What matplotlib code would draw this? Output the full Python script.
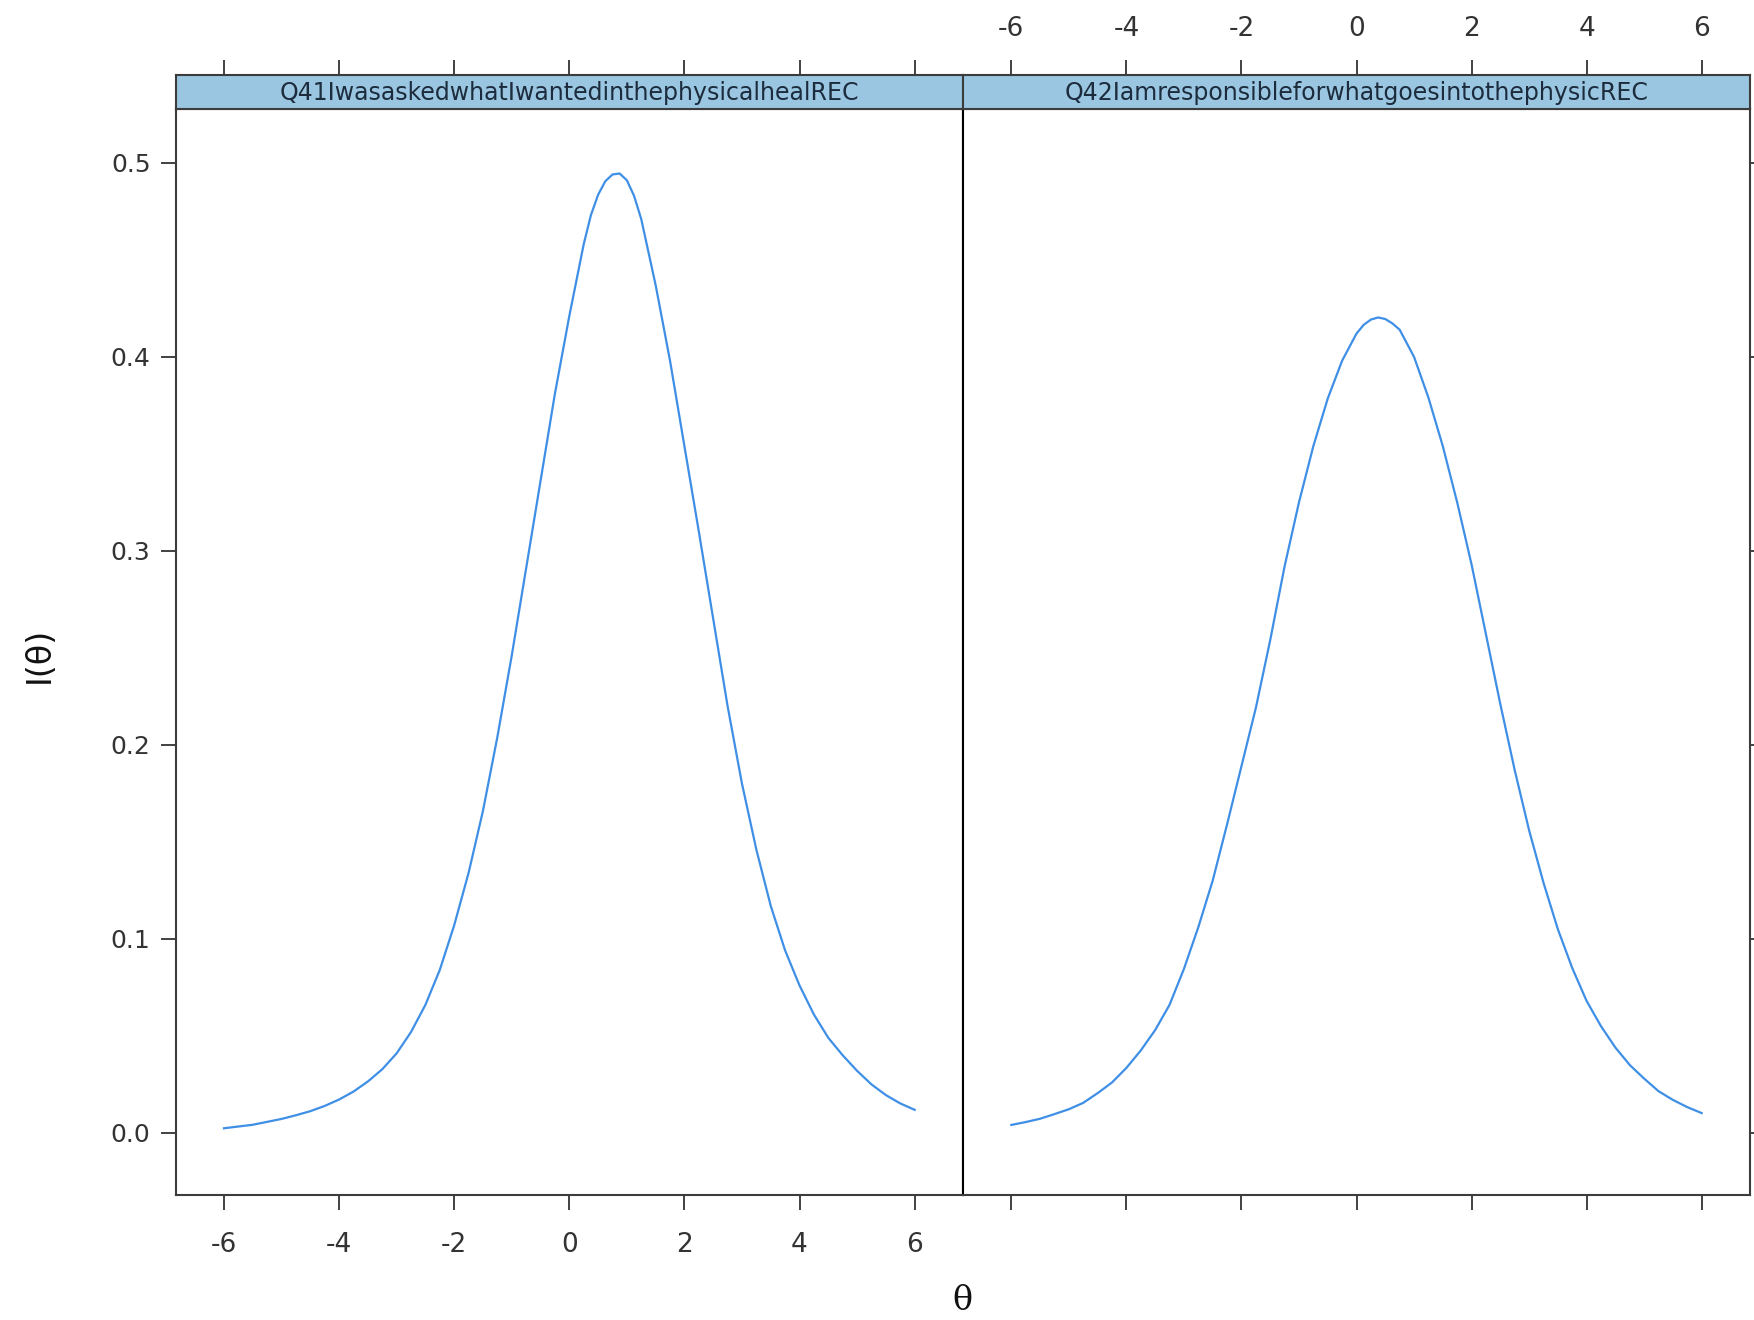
import matplotlib
matplotlib.use("Agg")
import matplotlib.pyplot as plt

# ---------------- data ----------------
theta_q41 = [-6.00, -5.75, -5.50, -5.25, -5.00, -4.75, -4.50, -4.25, -4.00, -3.75,
             -3.50, -3.25, -3.00, -2.75, -2.50, -2.25, -2.00, -1.75, -1.50, -1.25,
             -1.00, -0.75, -0.50, -0.25, 0.00, 0.25, 0.375, 0.50, 0.625, 0.75,
             0.875, 1.00, 1.125, 1.25, 1.50, 1.75, 2.00, 2.25, 2.50, 2.75,
             3.00, 3.25, 3.50, 3.75, 4.00, 4.25, 4.50, 4.75, 5.00, 5.25,
             5.50, 5.75, 6.00]
info_q41 = [0.0024, 0.0033, 0.0042, 0.0057, 0.0072, 0.0091, 0.0112, 0.0139, 0.0172, 0.0213,
            0.0265, 0.0328, 0.0410, 0.0520, 0.0660, 0.0840, 0.1070, 0.1340, 0.1660, 0.2040,
            0.2460, 0.2910, 0.3360, 0.3810, 0.4210, 0.4580, 0.4730, 0.4835, 0.4905, 0.4940,
            0.4945, 0.4910, 0.4830, 0.4710, 0.4370, 0.3980, 0.3540, 0.3100, 0.2650, 0.2200,
            0.1800, 0.1460, 0.1170, 0.0940, 0.0760, 0.0610, 0.0490, 0.0400, 0.0320, 0.0250,
            0.0195, 0.0152, 0.0119]

theta_q42 = [-6.00, -5.75, -5.50, -5.25, -5.00, -4.75, -4.50, -4.25, -4.00, -3.75,
             -3.50, -3.25, -3.00, -2.75, -2.50, -2.25, -2.00, -1.75, -1.50, -1.25,
             -1.00, -0.75, -0.50, -0.25, 0.00, 0.125, 0.25, 0.375, 0.50, 0.625,
             0.75, 1.00, 1.25, 1.50, 1.75, 2.00, 2.25, 2.50, 2.75, 3.00,
             3.25, 3.50, 3.75, 4.00, 4.25, 4.50, 4.75, 5.00, 5.25, 5.50,
             5.75, 6.00]
info_q42 = [0.0041, 0.0056, 0.0073, 0.0097, 0.0122, 0.0155, 0.0205, 0.0260, 0.0335, 0.0425,
            0.0530, 0.0660, 0.0845, 0.1060, 0.1300, 0.1590, 0.1890, 0.2190, 0.2540, 0.2920,
            0.3250, 0.3540, 0.3785, 0.3980, 0.4120, 0.4165, 0.4192, 0.4203, 0.4195, 0.4172,
            0.4140, 0.4000, 0.3790, 0.3540, 0.3250, 0.2930, 0.2570, 0.2210, 0.1870, 0.1560,
            0.1290, 0.1050, 0.0850, 0.0680, 0.0550, 0.0440, 0.0350, 0.0280, 0.0215, 0.0170,
            0.0133, 0.0102]

panel_titles = ["Q41IwasaskedwhatIwantedinthephysicalhealREC",
                "Q42IamresponsibleforwhatgoesintothephysicREC"]
x_ticks = [-6, -4, -2, 0, 2, 4, 6]
x_ticklabels = ["-6", "-4", "-2", "0", "2", "4", "6"]
y_ticks = [0.0, 0.1, 0.2, 0.3, 0.4, 0.5]
y_ticklabels = ["0.0", "0.1", "0.2", "0.3", "0.4", "0.5"]
x_label = "θ"
y_label = "I(θ)"

# ---------------- styling ----------------
plt.rcParams['font.family'] = ['DejaVu Sans']
W_PX, H_PX = 1754, 1320
fig = plt.figure(figsize=(W_PX / 100, H_PX / 100), dpi=100)

left_px, mid_px, right_px = 175.6, 963.0, 1750.0
strip_top_px, panel_top_px, panel_bot_px = 75.0, 108.5, 1195.0

def fx(px):
    return px / W_PX

def fy(py):
    return 1 - py / H_PX

pw = fx(mid_px) - fx(left_px)
pw2 = fx(right_px) - fx(mid_px)
ph = fy(panel_top_px) - fy(panel_bot_px)
sh = fy(strip_top_px) - fy(panel_top_px)

line_color = "#3f8fe6"
strip_color = "#9ac6e2"
edge_color = "#3c3c3c"
tick_kw = dict(direction="out", length=11, width=1.3, colors="#333333")

xlim = (-6.84, 6.84)
ylim = (-0.032, 0.528)

thetas = [theta_q41, theta_q42]
series = [info_q41, info_q42]
lefts = [fx(left_px), fx(mid_px)]
widths = [pw, pw2]

for i in range(2):
    ax = fig.add_axes([lefts[i], fy(panel_bot_px), widths[i], ph])
    ax.plot(thetas[i], series[i], color=line_color, lw=1.6,
            solid_joinstyle="round")
    ax.set_xlim(*xlim)
    ax.set_ylim(*ylim)
    ax.set_xticks(x_ticks)
    ax.set_yticks(y_ticks)
    for sp in ax.spines.values():
        sp.set_color(edge_color)
        sp.set_linewidth(1.5)
    ax.tick_params(axis="both", **tick_kw)
    if i == 0:
        ax.set_xticklabels(x_ticklabels, fontsize=19)
        ax.set_yticklabels(y_ticklabels, fontsize=18)
        ax.tick_params(axis="x", pad=16, bottom=True, top=False, labelbottom=True)
        ax.tick_params(axis="y", pad=7, left=True, right=False, labelleft=True)
        ax.spines["right"].set_color("black")
    else:
        ax.tick_params(axis="x", bottom=True, top=False, labelbottom=False)
        ax.tick_params(axis="y", left=False, right=True, labelleft=False, labelright=False)
        ax.spines["left"].set_color("black")

    # strip
    s = fig.add_axes([lefts[i], fy(panel_top_px), widths[i], sh])
    s.set_facecolor(strip_color)
    s.set_xlim(*xlim)
    s.set_ylim(0, 1)
    s.set_yticks([])
    s.set_xticks(x_ticks)
    for sp in s.spines.values():
        sp.set_color(edge_color)
        sp.set_linewidth(1.5)
    s.tick_params(axis="x", **tick_kw)
    if i == 1:
        s.set_xticklabels(x_ticklabels, fontsize=19)
        s.tick_params(axis="x", pad=13, bottom=False, top=True,
                      labelbottom=False, labeltop=True)
    else:
        s.tick_params(axis="x", bottom=False, top=True,
                      labelbottom=False, labeltop=False)
    s.text(0.5, 0.47, panel_titles[i], transform=s.transAxes,
           ha="center", va="center", fontsize=17, color="#1c2c3c")

fig.text(fx(39), fy(655), y_label, rotation=90, ha="center", va="center",
         fontsize=24, color="#111111")
fig.text(fx(962.8), fy(1301), x_label, ha="center", va="center",
         fontsize=24, color="#111111", family=["DejaVu Serif"])

fig.savefig("out.png", dpi=100, facecolor="white")
